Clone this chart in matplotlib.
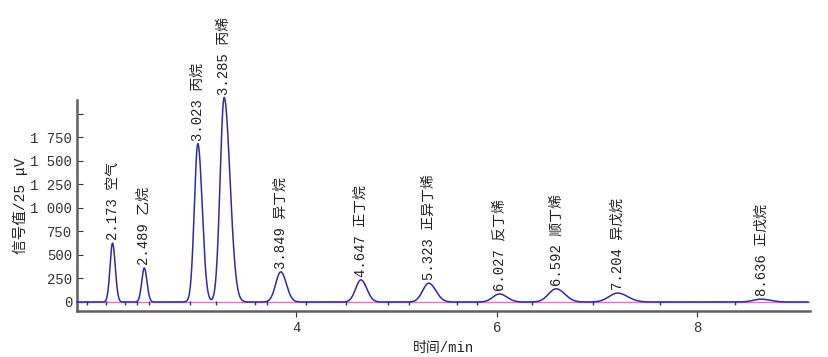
import numpy as np
import matplotlib
matplotlib.use('Agg')
import matplotlib.pyplot as plt

plt.rcParams['font.family'] = ['Liberation Mono', 'Noto Sans CJK SC']

# peak data
rt = [2.173, 2.489, 3.023, 3.285, 3.849, 4.647, 5.323, 6.027, 6.592, 7.204, 8.636]
heights = [625, 360, 1680, 2170, 320, 235, 200, 85, 140, 95, 30]
sigma_left = [0.025, 0.025, 0.035, 0.040, 0.050, 0.052, 0.060, 0.065, 0.075, 0.085, 0.080]
sigma_right = [0.027, 0.027, 0.043, 0.058, 0.055, 0.058, 0.070, 0.075, 0.085, 0.100, 0.090]
names = ['空气', '乙烷', '丙烷', '丙烯', '异丁烷', '正丁烷', '正异丁烯',
         '反丁烯', '顺丁烯', '异戊烷', '正戊烷']

# small integration marks on the baseline
marks = [1.92, 2.11, 2.30, 2.42, 2.54, 2.94, 3.20, 3.59, 3.71, 4.10, 4.50,
         4.92, 5.13, 5.60, 5.80, 6.35, 6.96, 7.63, 8.37]

yticks = [0, 250, 500, 750, 1000, 1250, 1500, 1750, 2000]
ytick_labels = ['0', '250', '500', '750', '1 000', '1 250', '1 500', '1 750', '']

t = np.linspace(1.82, 9.1, 4000)
signal = np.zeros_like(t)
for r, h, sl, sr in zip(rt, heights, sigma_left, sigma_right):
    s = np.where(t < r, sl, sr)
    signal += h * np.exp(-0.5 * ((t - r) / s) ** 2)

fig = plt.figure(figsize=(8.29, 3.57), dpi=100)
ax = fig.add_axes([0.093, 0.129, 0.884, 0.59])

ax.plot(t, signal, color='#2b2bb0', lw=1.1, clip_on=False, zorder=3)
ax.axhline(0, color='#e070c8', lw=1.0, zorder=2)
ax.vlines(marks, -30, 15, color='#2b2bb0', lw=1.0, zorder=3)

for r, h, n in zip(rt, heights, names):
    ax.text(r, h + 30, f'{r:.3f} {n}', rotation=90, ha='center', va='bottom',
            fontsize=10, color='#222222', clip_on=False)

ax.set_xlim(1.82, 9.12)
ax.set_ylim(-95, 2140)
ax.set_xticks([4, 6, 8])
ax.set_yticks(yticks)
ax.set_yticklabels(ytick_labels)
ax.tick_params(axis='y', direction='in', length=4, labelsize=10, colors='#333333')
ax.tick_params(axis='x', direction='out', length=4, labelsize=10, colors='#333333')

for side in ['top', 'right']:
    ax.spines[side].set_visible(False)
for side in ['left', 'bottom']:
    ax.spines[side].set_color('#606060')
    ax.spines[side].set_linewidth(1.8)

ax.set_xlabel('时间/min', fontsize=10, color='#222222', labelpad=4)
ax.set_ylabel('信号值/25 μV', fontsize=10.5, color='#222222', labelpad=2)

fig.savefig('out.png', dpi=100)
